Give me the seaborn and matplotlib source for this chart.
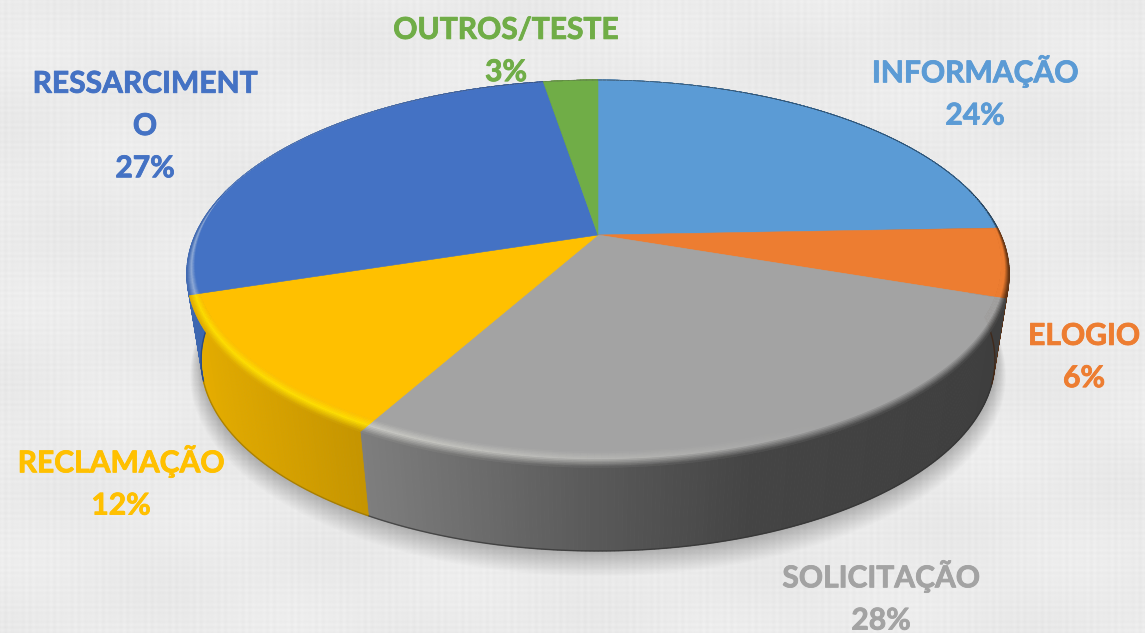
import numpy as np
import seaborn as sns
import matplotlib
matplotlib.use("Agg")
import matplotlib.pyplot as plt
import matplotlib.patheffects as pe
from matplotlib.collections import PolyCollection
from matplotlib.colors import to_rgb

categories = ["INFORMAÇÃO", "ELOGIO", "SOLICITAÇÃO", "RECLAMAÇÃO", "RESSARCIMENT\nO", "OUTROS/TESTE"]
values = [24.4, 5.8, 27.9, 12.0, 27.3, 2.6]
hex_colors = ["#5B9BD5", "#ED7D31", "#A3A3A3", "#FFC000", "#4472C4", "#70AD47"]

# where the label blocks sit, in picture pixels
label_x = [975, 1084, 881, 121, 145, 506]
label_y = [92, 357, 597, 482, 126, 51]

sns.set_theme(style="white")
plt.rcParams["font.family"] = ["Lato", "DejaVu Sans"]
palette = sns.color_palette(hex_colors)

# perspective of the disc
cx, cy = 598, 235
a, b, k = 403, 186, 0.2
depth = 87


def project(t, r=1.0, bottom=False):
    X = r * np.sin(t)
    Y = r * np.cos(t)
    w = 1 + k * Y
    sx = a * X / w
    sy = -b * Y / w
    if bottom:
        return cx + 0.965 * sx, cy + depth + 0.985 * sy
    return cx + sx, cy + sy


def side_factor(x):
    return np.interp(x, [190, 365, 590, 750, 1010], [0.9, 0.77, 0.55, 0.42, 0.38])


def highlight(x):
    return np.interp(x, [190, 365, 700, 820], [1.0, 1.0, 0.3, 0.0])


def bevel_width(t):
    return 0.055 * np.clip(0.25 - np.cos(t), 0, 1.25) / 1.25


fig = plt.figure(figsize=(11.45, 6.33), dpi=100)
ax = fig.add_axes([0, 0, 1, 1])

# linen-like background
xx, yy = np.meshgrid(np.arange(1145), np.arange(633))
weave = (np.sin(xx * 0.9) * np.sin(xx * 0.13 + 1) + np.sin(yy * 1.1) * np.sin(yy * 0.17 + 2)) * 0.008
blotch = np.sin(xx * 0.021 + yy * 0.013) * np.sin(yy * 0.037 - xx * 0.009) * 0.01
ax.imshow(0.918 + weave + blotch, cmap="gray", vmin=0, vmax=1, extent=(0, 1145, 633, 0), aspect="auto", zorder=0)

# soft shadow under the disc
ring = np.linspace(0, 2 * np.pi, 300)
sx, sy = project(ring, bottom=True)
for grow in range(1, 21):
    ax.fill(cx + (sx - cx) * (1 + grow * 0.0014), cy + 90 + (sy - cy - 90) * (1 + grow * 0.0025) + grow * 0.7,
            color="black", alpha=0.013, lw=0, zorder=1)

edges = np.cumsum([0] + values) / sum(values) * 2 * np.pi

# walls first, then the top face on them
for i in range(len(values)):
    base = np.array(to_rgb(palette[i]))
    n = max(int((edges[i + 1] - edges[i]) * 120), 4)
    ts = np.linspace(edges[i], edges[i + 1], n + 1)
    x0, y0 = project(ts)
    x1, y1 = project(ts, bottom=True)
    quads = [[(x0[j], y0[j]), (x0[j + 1], y0[j + 1]), (x1[j + 1], y1[j + 1]), (x1[j], y1[j])] for j in range(n)]
    cols = [np.clip(base * side_factor((x0[j] + x0[j + 1]) / 2), 0, 1) for j in range(n)]
    ax.add_collection(PolyCollection(quads, facecolors=cols, edgecolors=cols, linewidths=0.6, zorder=2))
    # thin dark foot along the bottom rim
    ax.plot(x1, y1, color=np.clip(base * side_factor(x1.mean()) * 0.7, 0, 1), lw=1.0, alpha=0.7, zorder=2.5)

for i in range(len(values)):
    base = np.array(to_rgb(palette[i]))
    ts = np.linspace(edges[i], edges[i + 1], 120)
    inner = 1 - bevel_width(ts)
    fx, fy = project(ts, inner)
    ax.fill(np.r_[cx, fx], np.r_[cy, fy], color=base, lw=0.4, zorder=3)

    # bevelled rim: bands from the face colour to the wall colour
    bands = 10
    quads, cols = [], []
    for j in range(len(ts) - 1):
        for u in range(bands):
            u0, u1 = u / bands, (u + 1) / bands
            tt = np.array([ts[j], ts[j + 1]])
            w = bevel_width(tt)
            xa, ya = project(tt, 1 - w * (1 - u0))
            xb, yb = project(tt, 1 - w * (1 - u1))
            quads.append([(xa[0], ya[0]), (xa[1], ya[1]), (xb[1], yb[1]), (xb[0], yb[0])])
            mid_x = xa.mean()
            wall = base * side_factor(mid_x)
            peak = base + (np.array([1.0, 1.0, 0.95]) - base) * 0.4 * highlight(mid_x)
            if base[2] < 0.1:
                peak = np.array([1.0, 0.87, 0.0]) * highlight(mid_x) + base * (1 - highlight(mid_x))
            m = (u0 + u1) / 2
            if m < 0.45:
                c = base + (peak - base) * m / 0.45
            else:
                c = peak + (wall - peak) * (m - 0.45) / 0.55
            cols.append(np.clip(c, 0, 1))
    ax.add_collection(PolyCollection(quads, facecolors=cols, edgecolors=cols, linewidths=0.4, zorder=3.5))

for i in range(len(values)):
    label = f"{categories[i]}\n{round(values[i])}%"
    ax.text(label_x[i], label_y[i], label, color=palette[i], fontsize=21.6, fontweight="bold",
            ha="center", va="center", linespacing=1.62, zorder=5,
            path_effects=[pe.withStroke(linewidth=0.6, foreground=palette[i])])

ax.set_xlim(0, 1145)
ax.set_ylim(633, 0)
ax.axis("off")
fig.savefig("out.png", dpi=100)
